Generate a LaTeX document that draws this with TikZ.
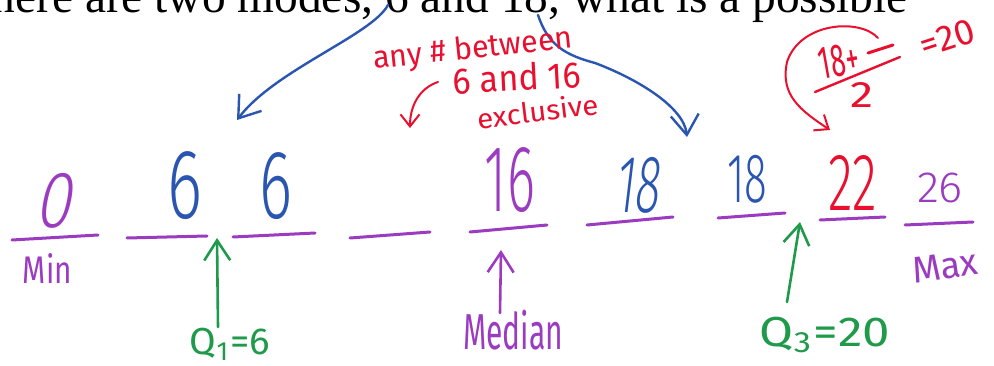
\documentclass[tikz,border=0pt]{standalone}
\usepackage{fontspec}
\usepackage{graphicx}
\setmainfont{Liberation Serif}
\IfFontExistsTF{FiraSans-Light.otf}{\newfontfamily\hwthin{FiraSans-Light.otf}}{%
 \IfFontExistsTF{Fira Sans Light}{\newfontfamily\hwthin{Fira Sans Light}}{%
  \IfFontExistsTF{Lato Light}{\newfontfamily\hwthin{Lato Light}}{%
   \IfFontExistsTF{Open Sans Light}{\newfontfamily\hwthin{Open Sans Light}}{%
    \newfontfamily\hwthin{Fira Sans}}}}}
\newfontfamily\hwlight{Fira Sans}
\usetikzlibrary{arrows.meta}
\definecolor{hwpurple}{HTML}{9B3CC0}
\definecolor{hwblue}{HTML}{2A55B0}
\definecolor{hwred}{HTML}{E8102E}
\definecolor{hwgreen}{HTML}{1E9A4A}
\newcommand\hwbox[3]{\resizebox*{#1pt}{#2pt}{#3}}
\tikzset{
  num/.style={inner sep=0pt, anchor=center, font=\hwthin},
  lab/.style={inner sep=0pt, anchor=center, font=\hwlight},
  pline/.style={draw=hwpurple, line width=3pt, line cap=round},
  marrow/.style={line width=2.6pt, line cap=round, line join=round,
    -{Straight Barb[length=20pt,width=26pt,line width=2.6pt]}},
  barrow/.style={draw=hwblue, line width=2.4pt, line cap=round, line join=round,
    -{Straight Barb[length=20pt,width=28pt,line width=2.4pt]}},
  rarrow/.style={draw=hwred, line width=2pt, line cap=round, line join=round,
    -{Straight Barb[length=12pt,width=19pt,line width=2pt]}}
}
\begin{document}
\begin{tikzpicture}[x=1pt,y=-1pt]
\useasboundingbox (0,0) rectangle (994,366);
\clip (0,0) rectangle (994,366);
\fill[white] (0,0) rectangle (994,366);
% printed question, cut at the top
\node[anchor=base west, inner sep=0pt, font=\fontsize{47.4}{50}\selectfont] (toptext) at (-8.6,12.5) {here are two modes, 6 and 18, what is a possible};
% numbers
\node[num, text=hwpurple, xslant=0.2] (n0) at (57.5,200.5) {\hwbox{36}{55}{0}};
\node[num, text=hwblue] (n6a) at (185.5,186) {\hwbox{35}{68}{6}};
\node[num, text=hwblue] (n6b) at (276.5,186.5) {\hwbox{33}{67}{6}};
\node[num, text=hwpurple] (n16) at (510,180.5) {\hwbox{50}{65}{16}};
\node[num, text=hwblue, xslant=0.12] (n18a) at (640,185) {\hwbox{44}{56}{18}};
\node[num, text=hwblue] (n18b) at (747,179) {\hwbox{40}{48}{18}};
\node[num, text=hwred] (n22) at (852.5,182.5) {\hwbox{49}{55}{22}};
\node[num, text=hwpurple] (n26) at (940,188) {\hwbox{46}{30}{26}};
% blanks
\draw[pline] (12,240) -- (98,235);
\draw[pline] (127,238) -- (207,236);
\draw[pline] (233,237) -- (315,233);
\draw[pline] (350,238) -- (430,232);
\draw[pline] (470,232) -- (547,225);
\draw[pline] (587,225) -- (673,217);
\draw[pline] (718,218) -- (785,213);
\draw[pline] (820,220) -- (885,217);
\draw[pline] (905,225) -- (973,222);
% labels
\node[lab, text=hwpurple] (lmin) at (47.5,268) {\hwbox{49}{30}{Min}};
\node[lab, text=hwpurple, rotate=8] (lmax) at (945,266.5) {\hwbox{66}{26}{Max}};
\node[lab, text=hwpurple] (lmed) at (513,330) {\hwbox{100}{40}{Median}};
\node[lab, text=hwgreen] (lq1) at (230,344.5) {\hwbox{80}{32}{Q\textsubscript{1}=6}};
\node[lab, text=hwgreen] (lq3) at (825,335) {\hwbox{130}{36}{Q\textsubscript{3}=20}};
% pointer arrows
\coordinate (q1foot) at (218,327);
\coordinate (q1tip) at (217,238);
\draw[marrow, draw=hwgreen] (q1foot) -- (q1tip);
\coordinate (medfoot) at (500,313);
\coordinate (medtip) at (501,250);
\draw[marrow, draw=hwpurple] (medfoot) -- (medtip);
\coordinate (q3foot) at (787,302);
\coordinate (q3tip) at (800,222);
\draw[marrow, draw=hwgreen] (q3foot) -- (q3tip);
% blue arrows from the modes in the question
\coordinate (modeA) at (388,5);
\coordinate (modeAtip) at (237,120);
\draw[barrow] (modeA) .. controls (372,35) and (275,70) .. (modeAtip);
\coordinate (modeB) at (538,15);
\coordinate (modeBmid) at (595,63);
\coordinate (modeBtip) at (687,137);
\draw[barrow] (modeB) .. controls (548,45) and (565,55) .. (modeBmid)
  .. controls (640,80) and (684,108) .. (modeBtip);
% red note
\node[lab, text=hwred, rotate=6] (tany) at (473,50) {\hwbox{200}{30}{any \# between}};
\node[lab, text=hwred, rotate=3] (tand) at (517,77.5) {\hwbox{128}{28}{6 and 16}};
\node[lab, text=hwred, rotate=7] (texcl) at (537.5,111) {\hwbox{122}{22}{exclusive}};
\coordinate (noteA) at (438,82);
\coordinate (noteAtip) at (410,128);
\draw[rarrow] (noteA) .. controls (420,88) and (410,105) .. (noteAtip);
% red fraction
\node[lab, text=hwred, rotate=10] (fnum) at (839,61) {\hwbox{40}{32}{18+}};
\draw[hwred, line width=3pt, line cap=round] (868,53) -- (893,45);
\draw[hwred, line width=2.4pt, line cap=round] (815,92) -- (900,57);
\node[lab, text=hwred] (fden) at (861.5,95) {\hwbox{23}{25}{2}};
\node[lab, text=hwred, rotate=18] (feq) at (947,38) {\hwbox{56}{25}{=20}};
\coordinate (fracA) at (878,38);
\coordinate (fracAmid) at (787,62);
\coordinate (fracAtip) at (830,130);
\draw[rarrow] (fracA) .. controls (860,18) and (800,22) .. (fracAmid)
  .. controls (780,95) and (800,110) .. (fracAtip);
\end{tikzpicture}
\end{document}
